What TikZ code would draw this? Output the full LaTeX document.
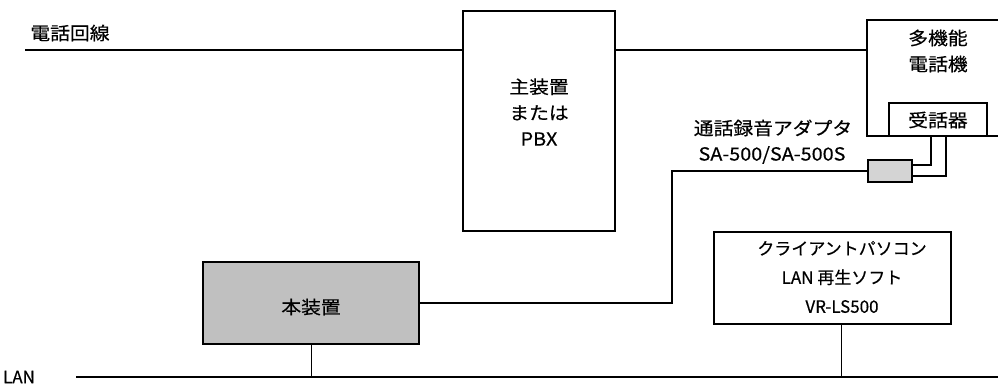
\documentclass[tikz,border=0pt]{standalone}
\usepackage{fontspec}
\setmainfont{Noto Sans CJK JP}[FakeStretch=1.1, FakeBold=0.4]
\newfontfamily\narrowjp{Noto Sans CJK JP}[FakeBold=0.4]
\definecolor{boxgray}{HTML}{C0C0C0}
\definecolor{adgray}{HTML}{D4D4D4}
\begin{document}
\begin{tikzpicture}[x=1pt,y=-1pt,
  thick line/.style={line width=1.5pt, line join=miter},
  thin line/.style={line width=1pt},
  box/.style={draw, line width=1.5pt, rectangle, inner sep=0pt, fill=white},
  lbl/.style={font=\fontsize{18}{26}\selectfont, align=center, inner sep=0pt},
  clbl/.style={font=\narrowjp\fontsize{17}{29}\selectfont, align=center, inner sep=0pt}]
\clip (0,0) rectangle (998,385);
\path[use as bounding box] (0,0) rectangle (998,385);
% boxes
\node[box, minimum width=152pt, minimum height=220pt] (pbx) at (539,121) {};
\node[lbl] (pbxt) at (539,112) {主装置\\または\\PBX};
\node[box, minimum width=135pt, minimum height=116pt] (phone) at (934.5,78) {};
\node[lbl] (phonet) at (938,51) {多機能\\電話機};
\node[box, minimum width=98pt, minimum height=33pt] (hand) at (938,119.5) {};
\node[lbl] (handt) at (938,120) {受話器};
\node[box, fill=adgray, minimum width=44pt, minimum height=22pt] (adapter) at (890,171) {};
\node[lbl] (adt1) at (773,128) {通話録音アダプタ};
\node[lbl] (adt2) at (772,155) {SA-500/SA-500S};
\node[box, fill=boxgray, minimum width=216pt, minimum height=82pt] (honbu) at (311,303) {};
\node[lbl] (honbut) at (311,307) {本装置};
\node[box, minimum width=237pt, minimum height=92pt] (client) at (832.5,278) {};
\node[clbl] (clientt) at (842,277) {クライアントパソコン\\LAN 再生ソフト\\VR-LS500};
% labels
\node[lbl] (telt) at (70,33) {電話回線};
\node[font=\narrowjp\fontsize{17}{20}\selectfont, inner sep=0pt] (lant) at (19,377) {LAN};
% coordinates
\coordinate (telstart) at (25,50);
\coordinate (lanstart) at (76,377);
\coordinate (lanend) at (998,377);
\coordinate (turn) at (672,171);
\coordinate (w1) at (931,136);
\coordinate (w2) at (946,136);
\coordinate (cstub) at (841,324);
% connectors
\draw[thick line] (telstart) -- (telstart -| pbx.west);
\draw[thick line] (pbx.east |- telstart) -- (phone.west |- telstart);
\draw[thick line] (adapter.west) -- (turn) -- (turn |- honbu.east) -- (honbu.east);
\draw[line width=1.3pt] (w1) -- (w1 |- 0,165) -- (adapter.east |- 0,165);
\draw[line width=1.3pt] (w2) -- (w2 |- 0,176) -- (adapter.east |- 0,176);
\draw[line width=1.8pt] (lanstart) -- (lanend);
\draw[thin line] (honbu.south) -- (honbu.south |- lanstart);
\draw[thin line] (cstub) -- (cstub |- lanstart);
\end{tikzpicture}
\end{document}
